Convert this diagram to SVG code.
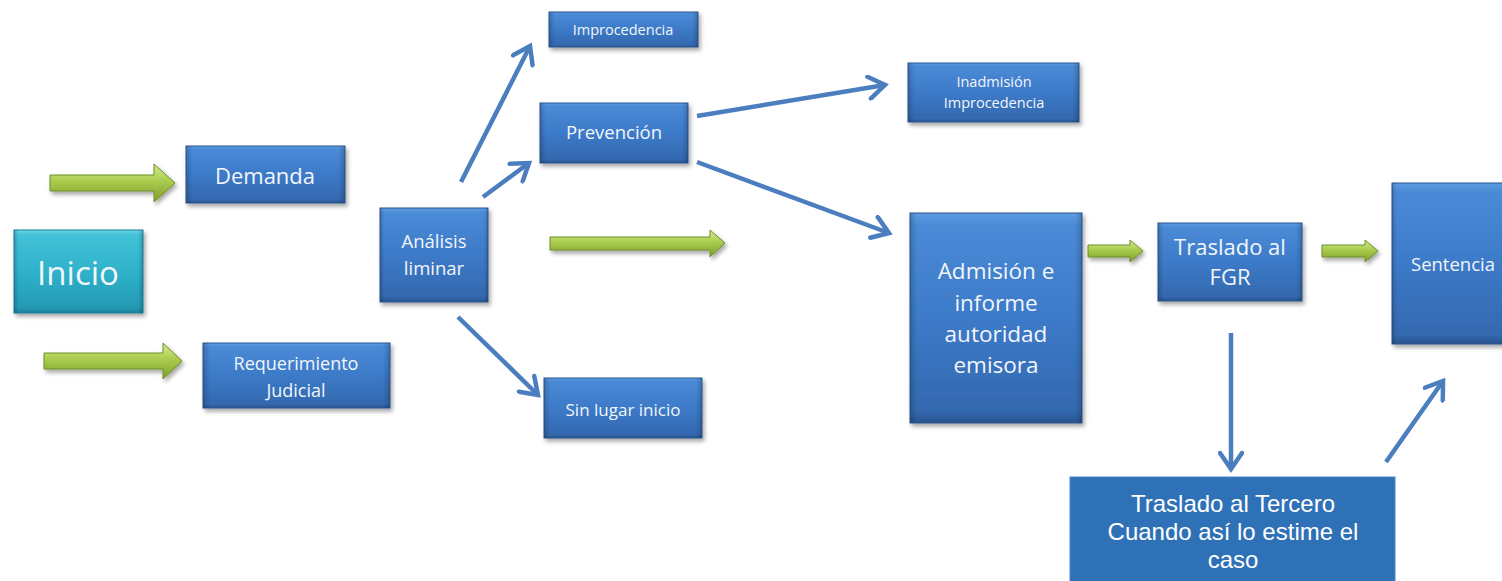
<svg xmlns="http://www.w3.org/2000/svg" width="1502" height="581" viewBox="0 0 1502 581">
<defs>
<linearGradient id="gBlue" x1="0" y1="0" x2="0" y2="1">
<stop offset="0" stop-color="#5C9BE0"/>
<stop offset="0.06" stop-color="#4A8AD6"/>
<stop offset="0.5" stop-color="#3C7AC8"/>
<stop offset="0.94" stop-color="#3469B0"/>
<stop offset="1" stop-color="#28548F"/>
</linearGradient>
<linearGradient id="gCyan" x1="0" y1="0" x2="0" y2="1">
<stop offset="0" stop-color="#6FD6E6"/>
<stop offset="0.06" stop-color="#43C2D8"/>
<stop offset="0.5" stop-color="#2FB2CB"/>
<stop offset="0.94" stop-color="#2499B4"/>
<stop offset="1" stop-color="#1B7E96"/>
</linearGradient>
<linearGradient id="gSide" x1="0" y1="0" x2="1" y2="0">
<stop offset="0" stop-color="#000" stop-opacity="0.18"/>
<stop offset="0.04" stop-color="#000" stop-opacity="0"/>
<stop offset="0.96" stop-color="#000" stop-opacity="0"/>
<stop offset="1" stop-color="#000" stop-opacity="0.18"/>
</linearGradient>
<linearGradient id="gGreen" x1="0" y1="0" x2="0" y2="1">
<stop offset="0" stop-color="#D3EC8E"/>
<stop offset="0.45" stop-color="#A9CC4E"/>
<stop offset="1" stop-color="#7E9F2C"/>
</linearGradient>
<filter id="sh" x="-10%" y="-10%" width="130%" height="130%">
<feDropShadow dx="2" dy="3" stdDeviation="2" flood-color="#000" flood-opacity="0.35"/>
</filter>
<marker id="ah" markerUnits="userSpaceOnUse" viewBox="-20 -13 24 26" markerWidth="24" markerHeight="26" refX="0" refY="0" orient="auto">
<path d="M-16,-11 L0,0 L-16,11" fill="none" stroke="#4A7EBE" stroke-width="4.5" stroke-linecap="round" stroke-linejoin="miter"/>
</marker>
</defs>
<style>
.box{fill:url(#gBlue);stroke:#2A5690;stroke-width:1;filter:url(#sh)}
.side{fill:url(#gSide);pointer-events:none}
.t{font-family:"Open Sans","Liberation Sans",sans-serif;fill:#F2F6FB;text-anchor:middle}
.ta{font-family:"Liberation Sans",Arial,sans-serif;fill:#FFFFFF;text-anchor:middle}
.ga{fill:url(#gGreen);stroke:#6F8F28;stroke-width:1;filter:url(#sh)}
.ba{fill:none;stroke:#4A7EBE;stroke-width:4.5;marker-end:url(#ah)}
</style>
<rect width="1502" height="581" fill="#FFFFFF"/>

<g id="connectors">
<path class="ga" d="M50,175 H154 V164 L175,183 L154,202 V191 H50 Z"/>
<path class="ga" d="M44,353 H163 V343 L182,361 L163,379 V369 H44 Z"/>
<path class="ga" d="M550,237 H710 V230 L725,243 L710,257 V250 H550 Z"/>
<path class="ga" d="M1088,245 H1130 V240 L1143,251 L1130,262 V257 H1088 Z"/>
<path class="ga" d="M1322,245 H1365 V240 L1378,251 L1365,262 V257 H1322 Z"/>
<line class="ba" x1="461" y1="182" x2="530" y2="46"/>
<line class="ba" x1="483" y1="197" x2="529" y2="163"/>
<line class="ba" x1="458" y1="317" x2="538" y2="395"/>
<line class="ba" x1="697" y1="116" x2="885" y2="85"/>
<line class="ba" x1="697" y1="162" x2="889" y2="233"/>
<line class="ba" x1="1231" y1="333" x2="1231" y2="469"/>
<line class="ba" x1="1386" y1="462" x2="1443" y2="381"/>
</g>

<g id="inicio">
<rect x="14" y="230" width="129" height="83" fill="url(#gCyan)" stroke="#1C8198" stroke-width="1" filter="url(#sh)"/>
<rect class="side" x="14" y="230" width="129" height="83"/>
<text class="t" x="78" y="285" font-size="33">Inicio</text>
</g>

<g id="demanda">
<rect class="box" x="186" y="146" width="159" height="57"/>
<rect class="side" x="186" y="146" width="159" height="57"/>
<text class="t" x="265" y="184" font-size="22">Demanda</text>
</g>

<g id="requerimiento">
<rect class="box" x="203" y="343" width="187" height="65"/>
<rect class="side" x="203" y="343" width="187" height="65"/>
<text class="t" x="296" y="370" font-size="18">Requerimiento</text>
<text class="t" x="296" y="397" font-size="18">Judicial</text>
</g>

<g id="analisis">
<rect class="box" x="380" y="208" width="108" height="94"/>
<rect class="side" x="380" y="208" width="108" height="94"/>
<text class="t" x="434" y="248" font-size="18.5">Análisis</text>
<text class="t" x="434" y="275" font-size="18.5">liminar</text>
</g>

<g id="improcedencia">
<rect class="box" x="549" y="12" width="149" height="35"/>
<rect class="side" x="549" y="12" width="149" height="35"/>
<text class="t" x="623" y="35" font-size="14.5">Improcedencia</text>
</g>

<g id="prevencion">
<rect class="box" x="540" y="103" width="148" height="60"/>
<rect class="side" x="540" y="103" width="148" height="60"/>
<text class="t" x="614" y="139" font-size="18.5">Prevención</text>
</g>

<g id="sinlugar">
<rect class="box" x="544" y="378" width="158" height="60"/>
<rect class="side" x="544" y="378" width="158" height="60"/>
<text class="t" x="623" y="416" font-size="17">Sin lugar inicio</text>
</g>

<g id="inadmision">
<rect class="box" x="908" y="63" width="171" height="59"/>
<rect class="side" x="908" y="63" width="171" height="59"/>
<text class="t" x="994" y="87" font-size="14.5">Inadmisión</text>
<text class="t" x="994" y="108" font-size="14.5">Improcedencia</text>
</g>

<g id="admision">
<rect class="box" x="910" y="213" width="172" height="210"/>
<rect class="side" x="910" y="213" width="172" height="210"/>
<text class="t" x="996" y="279" font-size="22.5">Admisión e</text>
<text class="t" x="996" y="311" font-size="22.5">informe</text>
<text class="t" x="996" y="342" font-size="22.5">autoridad</text>
<text class="t" x="996" y="373" font-size="22.5">emisora</text>
</g>

<g id="traslado-fgr">
<rect class="box" x="1158" y="223" width="144" height="78"/>
<rect class="side" x="1158" y="223" width="144" height="78"/>
<text class="t" x="1230" y="255" font-size="22">Traslado al</text>
<text class="t" x="1230" y="285" font-size="22">FGR</text>
</g>

<g id="sentencia">
<rect class="box" x="1392" y="183" width="122" height="161"/>
<rect class="side" x="1392" y="183" width="122" height="161"/>
<text class="t" x="1453" y="271" font-size="18.5">Sentencia</text>
</g>

<g id="traslado-tercero">
<rect x="1070" y="477" width="325" height="110" fill="#2F71B7" stroke="#4A86C8" stroke-width="1"/>
<text class="ta" x="1233" y="512" font-size="24">Traslado al Tercero</text>
<text class="ta" x="1233" y="540" font-size="24">Cuando así lo estime el</text>
<text class="ta" x="1233" y="568" font-size="24">caso</text>
</g>
</svg>
